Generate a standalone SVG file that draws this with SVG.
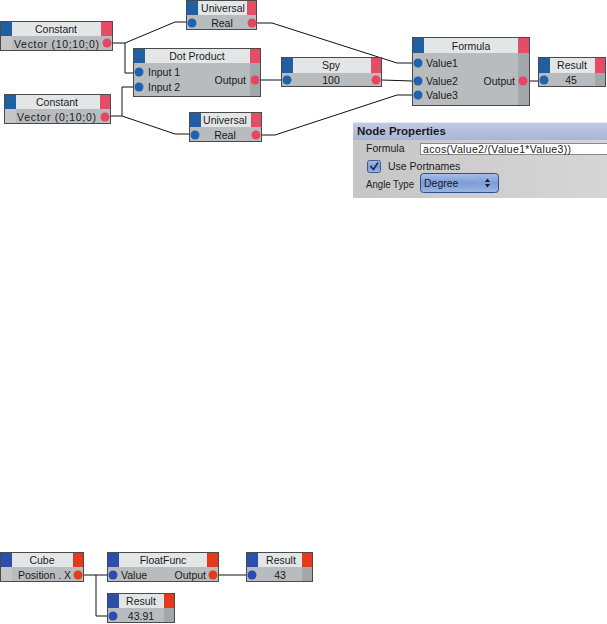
<svg xmlns="http://www.w3.org/2000/svg" width="607" height="624" viewBox="0 0 607 624">
<defs>
<linearGradient id="panelBg" x1="0" y1="0" x2="1" y2="0">
<stop offset="0" stop-color="#c6c6c6"/><stop offset="1" stop-color="#d6d6d6"/>
</linearGradient>
<linearGradient id="titleBg" x1="0" y1="0" x2="0" y2="1">
<stop offset="0" stop-color="#c2cbe4"/><stop offset="1" stop-color="#a9b5d4"/>
</linearGradient>
<linearGradient id="btnBg" x1="0" y1="0" x2="0" y2="1">
<stop offset="0" stop-color="#a9c0e8"/><stop offset="0.5" stop-color="#7c9cd6"/><stop offset="1" stop-color="#9cb6e4"/>
</linearGradient>
</defs>
<style>
.frame{fill:#b8bcbe;stroke:#4a4a4a;stroke-width:1}
.hd{fill:#e3e6e7}
.blu{fill:#1f5fa2}
.red{fill:#e34d66}
.blu2{fill:#2c4fae}
.red2{fill:#e5391c}
.strip{fill:#a2a7a9}
.lstrip{fill:#c4c6c7}
.pin{fill:#1f63b0}
.pout{fill:#e84660}
.pin2{fill:#2a4cb0}
.pout2{fill:#e53b1c}
.t{font-family:"Liberation Sans",Arial,sans-serif;font-size:10.5px;fill:#1a1a1a}
.c{text-anchor:middle}
.r{text-anchor:end}
.b{font-weight:bold;font-size:11.5px}
.wire{fill:none;stroke:#111;stroke-width:1}
</style>

<g id="connectors">
<polyline class="wire" points="112,43 125,43 175,22 186,22"/>
<polyline class="wire" points="125,43 125,73 134,73"/>
<polyline class="wire" points="110,116 122,116 122,87 134,87"/>
<polyline class="wire" points="122,116 175,134 189,134"/>
<polyline class="wire" points="257,23 272,23 397,63 412,63"/>
<polyline class="wire" points="261,80 281,80"/>
<polyline class="wire" points="382,80 412,81"/>
<polyline class="wire" points="262,135 275,135 397,95 412,95"/>
<polyline class="wire" points="530,81 538,81"/>
<polyline class="wire" points="84,575 107,575"/>
<polyline class="wire" points="96,575 96,616 107,616"/>
<polyline class="wire" points="219,575 246,575"/>
</g>

<g id="constant1">
<rect class="frame" x="0.5" y="21.5" width="112" height="29"/>
<rect class="lstrip" x="1" y="36" width="11" height="14"/>
<rect class="blu" x="1" y="22" width="11" height="14"/>
<rect class="hd" x="12" y="22" width="89" height="14"/>
<rect class="red" x="101" y="22" width="11" height="14"/>
<text class="t c" x="56" y="33">Constant</text>
<text class="t" x="14" y="47.5" textLength="85" lengthAdjust="spacing">Vector (10;10;0)</text>
<circle class="pout" cx="107" cy="43" r="4.5"/>
</g>

<g id="universal1">
<rect class="frame" x="186.5" y="0.5" width="70" height="29"/>
<rect class="blu" x="187" y="1" width="11" height="14"/>
<rect class="hd" x="198" y="1" width="49" height="14"/>
<rect class="red" x="247" y="1" width="9" height="14"/>
<text class="t c" x="223" y="12">Universal</text>
<text class="t c" x="222" y="27">Real</text>
<circle class="pin" cx="192" cy="23" r="4.5"/>
<circle class="pout" cx="252" cy="23" r="4.5"/>
</g>

<g id="dotproduct">
<rect class="frame" x="133.5" y="48.5" width="127" height="48"/>
<rect class="strip" x="250" y="63" width="10" height="33"/>
<rect class="blu" x="134" y="49" width="11" height="14"/>
<rect class="hd" x="145" y="49" width="105" height="14"/>
<rect class="red" x="250" y="49" width="10" height="14"/>
<text class="t c" x="197" y="60">Dot Product</text>
<circle class="pin" cx="139" cy="72" r="4.5"/>
<circle class="pin" cx="139" cy="87" r="4.5"/>
<text class="t" x="148" y="76">Input 1</text>
<text class="t" x="148" y="91">Input 2</text>
<text class="t r" x="246" y="84">Output</text>
<circle class="pout" cx="255" cy="80" r="4.5"/>
</g>

<g id="constant2">
<rect class="frame" x="4.5" y="94.5" width="106" height="29"/>
<rect class="lstrip" x="5" y="109" width="11" height="14"/>
<rect class="blu" x="5" y="95" width="11" height="14"/>
<rect class="hd" x="16" y="95" width="84" height="14"/>
<rect class="red" x="100" y="95" width="10" height="14"/>
<text class="t c" x="57" y="106">Constant</text>
<text class="t" x="17" y="121" textLength="79" lengthAdjust="spacing">Vector (0;10;0)</text>
<circle class="pout" cx="105" cy="117" r="4.5"/>
</g>

<g id="universal2">
<rect class="frame" x="189.5" y="112.5" width="72" height="29"/>
<rect class="blu" x="190" y="113" width="11" height="14"/>
<rect class="hd" x="201" y="113" width="50" height="14"/>
<rect class="red" x="251" y="113" width="10" height="14"/>
<text class="t c" x="225" y="124">Universal</text>
<text class="t c" x="225" y="139">Real</text>
<circle class="pin" cx="195" cy="135" r="4.5"/>
<circle class="pout" cx="256" cy="135" r="4.5"/>
</g>

<g id="spy">
<rect class="frame" x="281.5" y="57.5" width="100" height="29"/>
<rect class="blu" x="282" y="58" width="11" height="15"/>
<rect class="hd" x="293" y="58" width="78" height="15"/>
<rect class="red" x="371" y="58" width="10" height="15"/>
<text class="t c" x="331" y="69">Spy</text>
<text class="t c" x="331" y="84">100</text>
<circle class="pin" cx="287" cy="80" r="4.5"/>
<circle class="pout" cx="376" cy="80" r="4.5"/>
</g>

<g id="formula">
<rect class="frame" x="412.5" y="37.5" width="117" height="68"/>
<rect class="strip" x="518" y="53" width="11" height="52"/>
<rect class="blu" x="413" y="38" width="11" height="15"/>
<rect class="hd" x="424" y="38" width="94" height="15"/>
<rect class="red" x="518" y="38" width="11" height="15"/>
<text class="t c" x="471" y="50">Formula</text>
<circle class="pin" cx="418" cy="63" r="4.5"/>
<circle class="pin" cx="418" cy="81" r="4.5"/>
<circle class="pin" cx="418" cy="95" r="4.5"/>
<text class="t" x="426" y="67">Value1</text>
<text class="t" x="426" y="85">Value2</text>
<text class="t" x="426" y="99">Value3</text>
<text class="t r" x="515" y="85">Output</text>
<circle class="pout" cx="523" cy="81" r="4.5"/>
</g>

<g id="result1">
<rect class="frame" x="538.5" y="57.5" width="67" height="29"/>
<rect class="strip" x="595" y="73" width="10" height="13"/>
<rect class="blu" x="539" y="58" width="11" height="15"/>
<rect class="hd" x="550" y="58" width="45" height="15"/>
<rect class="red" x="595" y="58" width="10" height="15"/>
<text class="t c" x="572" y="69">Result</text>
<text class="t c" x="571" y="84">45</text>
<circle class="pin" cx="544" cy="80" r="4.5"/>
</g>

<g id="nodeproperties">
<rect x="353" y="122" width="254" height="76" fill="url(#panelBg)"/>
<rect x="353" y="122" width="254" height="18" fill="url(#titleBg)"/>
<line x1="353" y1="122.5" x2="607" y2="122.5" stroke="#e6eaf4"/>
<text class="t b" x="357" y="135" fill="#111">Node Properties</text>
<text class="t" x="366" y="152">Formula</text>
<rect x="420.5" y="143.5" width="187" height="11" fill="#ffffff" stroke="#8a8a8a"/>
<text class="t" x="423" y="152.5" textLength="148" lengthAdjust="spacing">acos(Value2/(Value1*Value3))</text>
<rect x="367.5" y="160.5" width="13" height="12" rx="2" fill="url(#btnBg)" stroke="#3a5a90"/>
<polyline points="370.5,166 373.5,169.5 378,162.5" fill="none" stroke="#1a2a50" stroke-width="1.6"/>
<text class="t" x="388" y="170">Use Portnames</text>
<text class="t" x="366" y="188" textLength="48" lengthAdjust="spacingAndGlyphs">Angle Type</text>
<rect x="420.5" y="173.5" width="78" height="19" rx="3" fill="url(#btnBg)" stroke="#2f4f88"/>
<line x1="478.5" y1="175" x2="478.5" y2="191" stroke="#90a8d8"/>
<text class="t" x="424" y="187">Degree</text>
<polygon points="485,182 487.5,178.5 490,182" fill="#1a1a30"/>
<polygon points="485,184 487.5,187.5 490,184" fill="#1a1a30"/>
</g>

<g id="cube">
<rect class="frame" x="0.5" y="552.5" width="83" height="29"/>
<rect class="lstrip" x="1" y="567" width="11" height="14"/>
<rect class="blu2" x="1" y="553" width="11" height="14"/>
<rect class="hd" x="12" y="553" width="61" height="14"/>
<rect class="red2" x="73" y="553" width="10" height="14"/>
<text class="t c" x="42" y="564">Cube</text>
<text class="t" x="18" y="579" textLength="53" lengthAdjust="spacing">Position . X</text>
<circle class="pout2" cx="78" cy="575" r="4.5"/>
</g>

<g id="floatfunc">
<rect class="frame" x="107.5" y="552.5" width="111" height="29"/>
<rect class="blu2" x="108" y="553" width="11" height="14"/>
<rect class="hd" x="119" y="553" width="88" height="14"/>
<rect class="red2" x="207" y="553" width="11" height="14"/>
<text class="t c" x="163" y="564">FloatFunc</text>
<circle class="pin2" cx="113" cy="575" r="4.5"/>
<text class="t" x="121" y="579">Value</text>
<text class="t r" x="206" y="579">Output</text>
<circle class="pout2" cx="213" cy="575" r="4.5"/>
</g>

<g id="result43">
<rect class="frame" x="246.5" y="552.5" width="66" height="29"/>
<rect class="strip" x="302" y="567" width="10" height="14"/>
<rect class="blu2" x="247" y="553" width="11" height="14"/>
<rect class="hd" x="258" y="553" width="44" height="14"/>
<rect class="red2" x="302" y="553" width="10" height="14"/>
<text class="t c" x="281" y="564">Result</text>
<text class="t c" x="280" y="579">43</text>
<circle class="pin2" cx="252" cy="575" r="4.5"/>
</g>

<g id="result4391">
<rect class="frame" x="107.5" y="593.5" width="67" height="29"/>
<rect class="strip" x="164" y="608" width="10" height="14"/>
<rect class="blu2" x="108" y="594" width="11" height="14"/>
<rect class="hd" x="119" y="594" width="45" height="14"/>
<rect class="red2" x="164" y="594" width="10" height="14"/>
<text class="t c" x="141" y="605">Result</text>
<text class="t c" x="141" y="620">43.91</text>
<circle class="pin2" cx="113" cy="616" r="4.5"/>
</g>
</svg>
